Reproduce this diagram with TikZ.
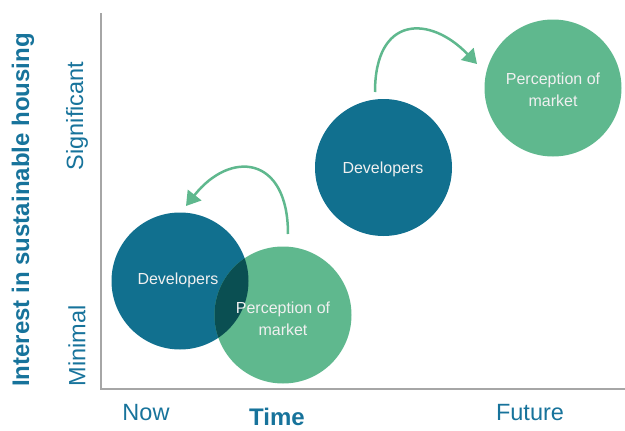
\documentclass[tikz,border=0pt]{standalone}
\usepackage{fontspec}
\setmainfont{Liberation Sans}
\usepackage{tikz}
\usetikzlibrary{arrows.meta}
\definecolor{devblue}{HTML}{11708F}
\definecolor{mktgreen}{HTML}{5FB88E}
\definecolor{bothdark}{HTML}{0A4F52}
\definecolor{axisgray}{HTML}{A6A6A6}
\definecolor{labelteal}{HTML}{17739B}
\tikzstyle{blob}=[circle,minimum size=137pt,inner sep=0pt]
\tikzstyle{devblob}=[blob,fill=devblue]
\tikzstyle{mktblob}=[blob,fill=mktgreen]
\tikzstyle{blobtext}=[text=white!94!black,align=center,font=\fontsize{16}{22}\selectfont]
\tikzstyle{axisline}=[draw=axisgray,line width=2pt]
\tikzstyle{scalelabel}=[text=labelteal,font=\fontsize{23.5}{27}\selectfont]
\tikzstyle{axistitle}=[text=labelteal,inner sep=0pt,font=\bfseries\fontsize{24}{27}\selectfont]
\tikzstyle{move}=[draw=mktgreen,line width=2.5pt,-{Triangle[length=14pt,width=17pt]}]

\begin{document}
\begin{tikzpicture}[x=1pt,y=-1pt]
  \useasboundingbox (0,0) rectangle (625,431);

  % axes
  \coordinate (top) at (101,13);
  \coordinate (origin) at (101,389);
  \coordinate (right) at (625,389);
  \path[axisline] (top) -- (origin) -- (right);

  % the four circles, two now and two later
  \foreach \pos/\kind/\name in {
    {(180,281)/devblob/devNow},
    {(283,315)/mktblob/mktNow},
    {(383.5,167.5)/devblob/devLater},
    {(553,88)/mktblob/mktLater}}
    \node[\kind] (\name) at \pos {};

  % darker where the two circles now overlap
  \begin{scope}
    \clip (devNow.center) circle (68.5pt);
    \fill[bothdark] (mktNow.center) circle (68.5pt);
  \end{scope}

  % texts in the circles
  \node[blobtext] (devNowText) at (178,280) {Developers};
  \node[blobtext] (mktNowText) at (283,319) {Perception of\\market};
  \node[blobtext] (devLaterText) at (383,169) {Developers};
  \node[blobtext] (mktLaterText) at (553,90) {Perception of\\market};

  % curved arrows
  \coordinate (nowStart) at (288,234);
  \coordinate (nowEnd) at (186,206);
  \coordinate (laterStart) at (375,92);
  \coordinate (laterEnd) at (477,64);
  \path[move] (nowStart) .. controls (288,155) and (230,150) .. (nowEnd);
  \path[move] (laterStart) .. controls (375,15) and (430,15) .. (laterEnd);

  % axis labels
  \node[axistitle,rotate=90] (yTitle) at (23,210) {Interest in sustainable housing};
  \node[scalelabel,rotate=90] (yHigh) at (77,116) {Significant};
  \node[scalelabel,rotate=90] (yLow) at (77,346) {Minimal};
  \node[scalelabel] (xNow) at (146,413) {Now};
  \node[axistitle] (xTitle) at (277,417) {Time};
  \node[scalelabel] (xFuture) at (530,413) {Future};
\end{tikzpicture}
\end{document}
